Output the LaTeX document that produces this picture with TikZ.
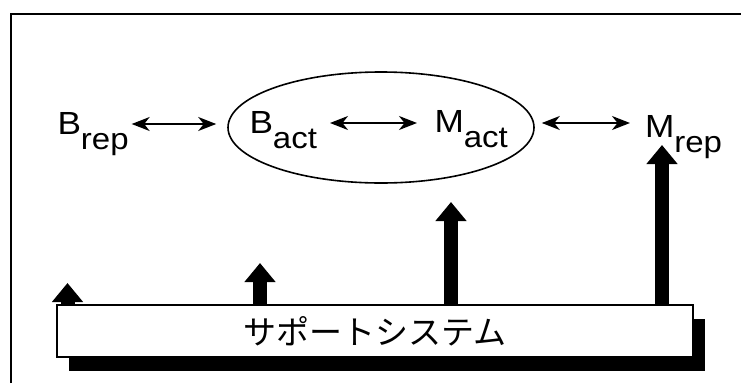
\documentclass[tikz,border=0pt]{standalone}
\usepackage{fontspec}
\setmainfont{Liberation Sans}
\newfontfamily\jpfont{Noto Sans CJK JP}
\usetikzlibrary{arrows.meta,shapes.geometric,shadows}
\newcommand\mylab[2]{\scalebox{1.1}[1]{\fontsize{32}{32}\selectfont #1\raisebox{-15pt}{\fontsize{30}{30}\selectfont #2}}}
\begin{document}
\begin{tikzpicture}[x=1pt,y=-1pt,
  frameline/.style={line width=1.7pt},
  lab/.style={inner sep=0pt, outer sep=0pt, anchor=base west},
  dbl/.style={line width=1.6pt, {Stealth[length=18pt,width=14pt,inset=5.5pt]}-{Stealth[length=18pt,width=14pt,inset=5.5pt]}},
  bigarrow/.style={line width=14pt, -{Triangle[length=19pt,width=30pt]}},
  ellnode/.style={draw, ellipse, line width=1.6pt, minimum width=306pt, minimum height=111pt, inner sep=0pt},
  sysbox/.style={draw, fill=white, line width=1.5pt, minimum width=636pt, minimum height=52pt, inner sep=0pt,
    drop shadow={shadow xshift=12pt, shadow yshift=-14pt, fill=black, opacity=1}}]
\useasboundingbox (0,0) rectangle (741,383);
\draw[frameline] (11,383) -- (11,14) -- (741,14);

\node[ellnode] (ell) at (381,127.5) {};
\node[lab] (Brep) at (57.5,134) {\mylab{B}{rep}};
\node[lab] (Bact) at (249.5,133) {\mylab{B}{act}};
\node[lab] (Mact) at (434.5,132) {\mylab{M}{act}};
\node[lab] (Mrep) at (645,137) {\mylab{M}{rep}};

\draw[dbl] ([xshift=3pt]Brep.east |- 0,124) -- ([xshift=-11pt]ell.west |- 0,124);
\draw[dbl] ([xshift=13pt]Bact.east |- 0,123) -- ([xshift=-17.5pt]Mact.west |- 0,123);
\draw[dbl] ([xshift=7pt]ell.east |- 0,123) -- ([xshift=-15pt]Mrep.west |- 0,123);

\node[sysbox] (sys) at (375,331) {\fontsize{33}{33}\jpfont サポートシステム};

\coordinate (t1) at (67.5,283);
\coordinate (t2) at (260,263);
\coordinate (t3) at (451,202);
\coordinate (t4) at (662,145);
\draw[bigarrow] (sys.north -| t1) -- (t1);
\draw[bigarrow] (sys.north -| t2) -- (t2);
\draw[bigarrow] (sys.north -| t3) -- (t3);
\draw[bigarrow] (sys.north -| t4) -- (t4);
\end{tikzpicture}
\end{document}
